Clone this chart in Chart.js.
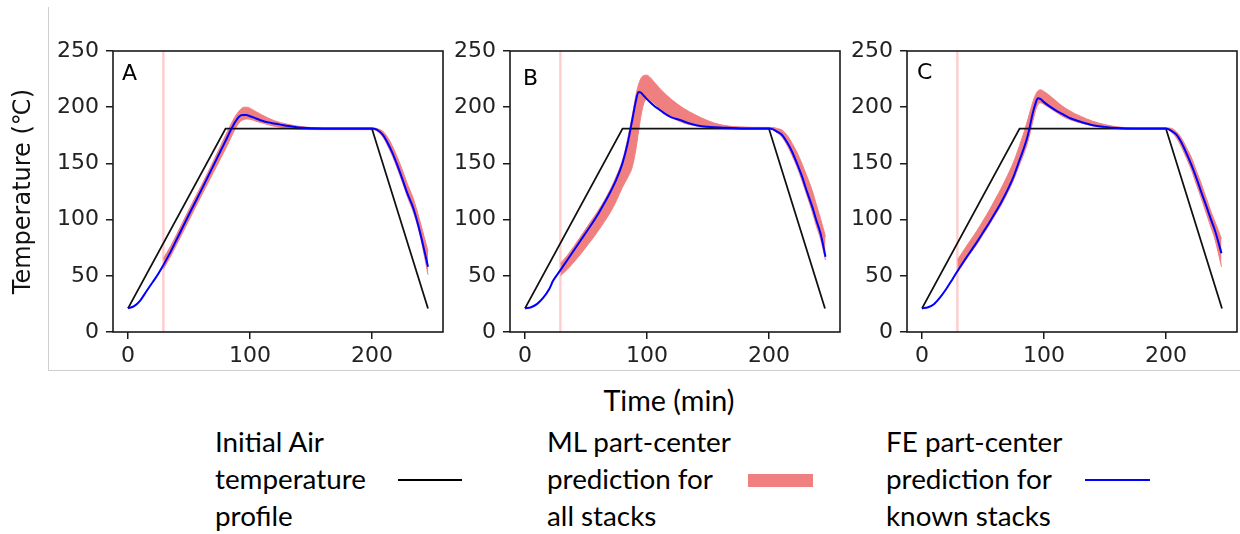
<!DOCTYPE html>
<html>
<head>
<meta charset="utf-8">
<script src="https://cdn.jsdelivr.net/npm/chart.js@4.4.1/dist/chart.umd.min.js"></script>
<style>
html,body{margin:0;padding:0;background:#fff;}
body{width:1240px;height:534px;position:relative;overflow:hidden;}
.frame{position:absolute;left:48px;top:7px;width:1192px;height:364px;border-left:1px solid #cfcfcf;border-bottom:1px solid #cfcfcf;box-sizing:border-box;}
canvas{position:absolute;top:0;}
.txt{position:absolute;color:#000;white-space:nowrap;font-family:Lato,"Open Sans",sans-serif;}
.leg{line-height:37px;}
.sw{position:absolute;}
</style>
</head>
<body>
<div class="frame"></div>
<canvas id="cA" width="450" height="370" style="left:0px;width:450px;height:370px"></canvas>
<canvas id="cB" width="395" height="370" style="left:450px;width:395px;height:370px"></canvas>
<canvas id="cC" width="395" height="370" style="left:845px;width:395px;height:370px"></canvas>

<div class="txt" id="xTitle" style="left:569px;width:200px;text-align:center;top:383px;">Time (min)</div>

<div class="txt leg" id="leg1" style="left:215px;top:423px;">Initial Air<br>temperature<br>profile</div>
<div class="sw" style="left:398px;top:479px;width:64px;height:2px;background:#000;"></div>
<div class="txt leg" id="leg2" style="left:547px;top:423px;">ML part-center<br>prediction for<br>all stacks</div>
<div class="sw" style="left:748px;top:474px;width:65px;height:13px;background:#f08080;"></div>
<div class="txt leg" id="leg3" style="left:886px;top:423px;">FE part-center<br>prediction for<br>known stacks</div>
<div class="sw" style="left:1085px;top:479px;width:65px;height:2px;background:#0000ff;"></div>

<script>
// ---------- data ----------
const xMin = -12.3, xMax = 258.3;
const yMin = 0, yMax = 250;
const xTicks = [0, 100, 200];
const yTicks = [0, 50, 100, 150, 200, 250];
const panelLetters = ['A', 'B', 'C'];

const airTime = [0, 80, 200, 246];
const airTemp = [21, 181, 181, 21];
const markerTime = 29;

// Panel A
const feTimeA = [0,5,10,15,20,25,29,35,40,50,60,70,80,84,88,91,94,97,100,105,110,115,120,125,130,140,160,200,204,209,213,217,221,225,229,233.5,237,240.3,246];
const feTempA = [21,23,28,36,44,52,59.5,71.5,82.5,104.5,126,148,170,179,187,191.5,193,193,192,190,188,186.5,185.5,184.5,183.5,182,181,181,180,175.3,168,159,148,136,123.5,111.5,99,85,58];
const mlTimeA = [29,35,40,50,60,70,80,84,88,91,95,98,101,105,110,120,130,140,160,200,204,209,213,217,221,225,229,233.5,237,240.3,246];
const mlLowA  = [56,67.5,78,99.5,121,142,163,172,181,186,189,189.5,189,187.5,186,183,181.5,180.5,180,180,179,173.5,165.5,156,145,133,120.5,108,96,82,51];
const mlHighA = [65.5,76.5,87,109,130,152,175,184,192,196.5,200,200,198.5,196,193,188,185,183,181.5,181.5,181,178.5,173,165,155,144,132,120,108,95,72];

// Panel B
const feTimeB = [0,5,10,15,20,23,29,35,40,45,50,55,60,65,70,75,80,84,88,91,93,95,98,102,106,110,115,120,127,135,145,160,180,200,203,207,210.8,215,219,223,227.2,231,235.5,239,242.3,246.4];
const feTempB = [21,22,25,30.5,38.5,45.5,55,64.5,72.5,80.5,88.5,96.5,105,114.5,124.5,136,150.5,167,189,206,213.5,213,209.5,205,201,198,194,191,188.6,185.5,183,182,181,181,180.5,178,175.3,168.5,160.4,150,138.2,125.5,111.5,99,87.8,67];
const mlTimeB = [29,35,40,45,50,55,60,65,70,75,80,84,88,91,94,97,100,103,107,112,120,130,140,150,160,175,200,203,207,211,215,219,223,227,231,235.5,239,242.3,246.4];
const mlLowB  = [50,56,62,68.5,75.5,82.5,90,98,106.5,117,129,137,147,163,185,202,207,206,202,197,191,186,183.5,182,181,180.5,180.5,180,177,173,166,157,147,135,122,107,94,83,64];
const mlHighB = [61,68.5,76,84,92,100,108,117,127,139,153,171,193,211,223,228,228.5,226,221,215,207,199,193,188,184.5,182.5,182,182,181,179.5,175,168,160,150,139,126,113,101,85];

// Panel C
const feTimeC = [0,5,10,15,20,25,29,35,40,45,50,55,60,65,70,75,80,84,87,91,93,95,97,100,105,110,115,120,125,130,140,150,160,175,200,202,205,208.8,213,216.9,221,225.1,229,233.3,237,240.1,245.6];
const feTempC = [21,22,25,31,38.5,47,54,64,72,80,88.5,97,106,115.5,126,138,153,165,176,195.5,203,208,207.5,204.5,200.5,197,194,191,188.8,187,184,182.5,181.5,181,181,180.5,178.5,175.3,168,159,148.5,136.7,124.5,111.5,100,90.7,70];
const mlTimeC = [29,35,40,45,50,55,60,65,70,75,80,84,87,91,94,97,100,105,110,115,120,125,130,140,150,160,175,200,203,208.8,213,216.9,221,225.1,229,233.3,237,240.1,245.6];
const mlLowC  = [53,62.5,70.5,78,86.5,95,104,113,123.5,135,149,160,170,188,200,204,202.5,199,195.5,192,189.5,187.5,186,183.5,182,181,180.5,180.5,179.5,172.5,164,154.5,144,131,119,105,93,83,58];
const mlHighC = [64,74,82,90,99,108,118,128,139,151,166,179,190,205,213,215.5,214,210,205.5,201,197.5,194.5,192,187.5,184.5,182.5,181.5,181.5,181.5,178,172,164,155,143,132,118.5,107,98.5,83];

const yTitle = 'Temperature (℃)';

// ---------- helpers ----------
const pts = (xs, ys) => xs.map((x, i) => ({x: x, y: ys[i]}));

const framePlugin = {
  id: 'frame',
  afterDatasetsDraw(chart, args, opts) {
    const {ctx, chartArea: {left, top, right, bottom}} = chart;
    ctx.save();
    ctx.strokeStyle = '#1a1a1a';
    ctx.lineWidth = 1.6;
    ctx.strokeRect(left, top, right - left, bottom - top);
    ctx.fillStyle = '#000';
    ctx.font = '22px "DejaVu Sans"';
    ctx.textBaseline = 'alphabetic';
    ctx.textAlign = 'left';
    ctx.fillText(opts.text, left + opts.dx, top + opts.dy);
    ctx.restore();
  }
};

function buildChart(id, letter, fT, fV, mT, mL, mH, yWidth, padRight, letterDx, letterDy, showTitle) {
  const tickFont = {family: 'DejaVu Sans', size: 22};
  return new Chart(document.getElementById(id), {
    type: 'line',
    data: {
      datasets: [
        {data: pts(fT, fV), borderColor: '#0000ff', borderWidth: 2, pointRadius: 0, cubicInterpolationMode: 'monotone', fill: false, order: 0},
        {data: pts(airTime, airTemp), borderColor: '#111', borderWidth: 1.8, pointRadius: 0, tension: 0, fill: false, order: 1},
        {data: pts(mT, mH), borderColor: '#f08080', borderWidth: 1, pointRadius: 0, cubicInterpolationMode: 'monotone', fill: false, order: 2},
        {data: pts(mT, mL), borderColor: '#f08080', borderWidth: 1, pointRadius: 0, cubicInterpolationMode: 'monotone', fill: '-1', backgroundColor: '#f08080', order: 3},
        {data: [{x: markerTime, y: yMin}, {x: markerTime, y: yMax}], borderColor: 'rgba(255,0,0,0.2)', borderWidth: 2.4, pointRadius: 0, fill: false, order: 4}
      ]
    },
    options: {
      responsive: false,
      animation: false,
      layout: {padding: {top: 51, right: padRight, bottom: 0, left: 0}},
      plugins: {
        legend: {display: false},
        tooltip: {enabled: false},
        frame: {text: letter, dx: letterDx, dy: letterDy}
      },
      scales: {
        x: {
          type: 'linear', min: xMin, max: xMax,
          afterBuildTicks: s => { s.ticks = xTicks.map(v => ({value: v})); },
          afterFit: s => { s.height = 38; },
          grid: {drawOnChartArea: false, drawTicks: true, tickLength: 7, color: '#1a1a1a', lineWidth: 1.5},
          border: {display: false},
          ticks: {font: tickFont, color: '#222', padding: 4, maxRotation: 0, autoSkip: false}
        },
        y: {
          type: 'linear', min: yMin, max: yMax,
          afterBuildTicks: s => { s.ticks = yTicks.map(v => ({value: v})); },
          afterFit: s => { s.width = yWidth; },
          grid: {drawOnChartArea: false, drawTicks: true, tickLength: 7, color: '#1a1a1a', lineWidth: 1.5},
          border: {display: false},
          ticks: {font: tickFont, color: '#222', padding: 7, autoSkip: false},
          title: {display: showTitle, text: yTitle, color: '#111', font: {family: 'DejaVu Sans', size: 24}, padding: {top: 9, bottom: 0}}
        }
      }
    },
    plugins: [framePlugin]
  });
}

buildChart('cA', panelLetters[0], feTimeA, feTempA, mlTimeA, mlLowA, mlHighA, 113, 7, 9, 29, true);
buildChart('cB', panelLetters[1], feTimeB, feTempB, mlTimeB, mlLowB, mlHighB, 60, 5, 13, 34, false);
buildChart('cC', panelLetters[2], feTimeC, feTempC, mlTimeC, mlLowC, mlHighC, 62, 3, 10, 28, false);

// ---------- fit text sizes ----------
function fitSize(text, target, family) {
  const c = document.createElement('canvas').getContext('2d');
  c.font = '100px ' + family;
  return 100 * target / c.measureText(text).width;
}
const fam = 'Lato';
const legSize = fitSize('temperature', 151, fam);
['leg1', 'leg2', 'leg3'].forEach(id => { document.getElementById(id).style.fontSize = legSize.toFixed(2) + 'px'; });
const xs = fitSize('Time (min)', 131, fam);
document.getElementById('xTitle').style.fontSize = xs.toFixed(2) + 'px';
</script>
</body>
</html>
